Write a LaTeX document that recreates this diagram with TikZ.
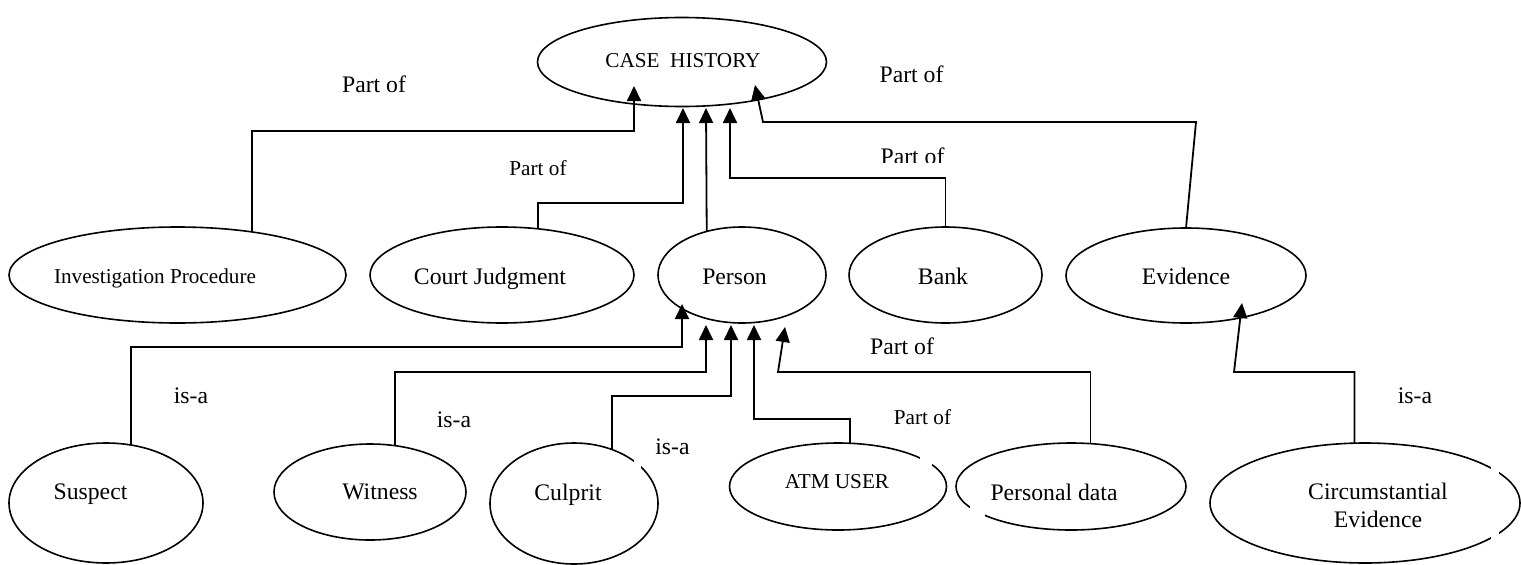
\documentclass[tikz,border=0pt]{standalone}
\usepackage{fontspec}
\setmainfont{Liberation Serif}
\usetikzlibrary{shapes.geometric,arrows.meta}
\begin{document}
\begin{tikzpicture}[x=1pt,y=-1pt,
  ell/.style={draw,ellipse,line width=1.6pt,inner sep=0pt,outer sep=0pt},
  big/.style={font=\fontsize{23.7}{28}\selectfont,inner sep=0pt,anchor=base},
  small/.style={font=\fontsize{21.2}{25}\selectfont,inner sep=0pt,anchor=base},
  link/.style={line width=1.8pt},
  arr/.style={link,-{Triangle[length=15pt,width=14pt]}},
  thinlink/.style={line width=1.1pt},
  gap/.style={fill=white,draw=none}
]
\useasboundingbox (0,0) rectangle (1521,565);

% ellipses
\node[ell,minimum width=289pt,minimum height=89pt] (case) at (682,62) {};
\node[ell,minimum width=337pt,minimum height=96pt] (inv) at (177.5,275) {};
\node[ell,minimum width=264pt,minimum height=96pt] (court) at (502,275) {};
\node[ell,minimum width=168pt,minimum height=96pt] (person) at (742,275) {};
\node[ell,minimum width=193pt,minimum height=96pt] (bank) at (945.5,275) {};
\node[ell,minimum width=240pt,minimum height=95pt] (evid) at (1186,275.5) {};
\node[ell,minimum width=194pt,minimum height=120pt] (suspect) at (106,503) {};
\node[ell,minimum width=192pt,minimum height=96pt] (witness) at (370,492) {};
\node[ell,minimum width=168pt,minimum height=121pt] (culprit) at (574,503.5) {};
\node[ell,minimum width=217pt,minimum height=87pt] (atm) at (838,486.5) {};
\node[ell,minimum width=230pt,minimum height=87pt] (pdata) at (1071,486.5) {};
\node[ell,minimum width=310pt,minimum height=120pt] (circ) at (1365,503) {};

% small breaks in outlines
\fill[gap] (634,452) rectangle (641,478);
\fill[gap] (920,448) rectangle (932,470);
\fill[gap] (970,502) rectangle (985,522);
\fill[gap] (1491,458) rectangle (1499,478);
\fill[gap] (1491,528) rectangle (1499,548);

% ellipse texts
\node[small] (caset) at (683,67) {CASE\ \ HISTORY};
\node[small] (invt) at (155,283) {Investigation Procedure};
\node[big] (courtt) at (490,284) {Court Judgment};
\node[big] (persont) at (734.5,284) {Person};
\node[big] (bankt) at (943,284) {Bank};
\node[big] (evidt) at (1186,284) {Evidence};
\node[big] (suspectt) at (90.5,499) {Suspect};
\node[big] (witnesst) at (380,499) {Witness};
\node[big] (culpritt) at (568,500) {Culprit};
\node[small] (atmt) at (837,488) {ATM USER};
\node[big] (pdatat) at (1054,500) {Personal data};
\node[big] (circt1) at (1378,499) {Circumstantial};
\node[big] (circt2) at (1378,527) {Evidence};

% tip and elbow coordinates
\coordinate (t1) at (634,86);   \coordinate (e1) at (634,131);
\coordinate (t2) at (683,108);  \coordinate (e2) at (683,203);
\coordinate (t3) at (706,108);
\coordinate (t4) at (730,108);  \coordinate (e4) at (730,178);
\coordinate (t5) at (755,85);   \coordinate (e5a) at (1196,122); \coordinate (e5b) at (763,122);
\coordinate (t6) at (682,304);  \coordinate (e6) at (682,347);
\coordinate (t7) at (706,325);  \coordinate (e7) at (706,372);
\coordinate (t8) at (731,325);  \coordinate (e8) at (731,396);
\coordinate (t9) at (754,325);  \coordinate (e9) at (754,419);
\coordinate (t10) at (785,327); \coordinate (e10a) at (850,372); \coordinate (e10b) at (778,372);
\coordinate (t11) at (1242,303); \coordinate (e11) at (1234,372);

% connectors to CASE HISTORY
\draw[arr] (inv.30.85) |- (e1) -- (t1);
\draw[arr] (court.52.46) |- (e2) -- (t2);
\draw[arr] (person.129.7) -- (t3);
\draw[arr] (bank.north) |- (e4) -- (t4);
\draw[arr] (evid.north) -- (e5a) -- (e5b) -- (t5);

% connectors to Person
\draw[arr] (suspect.67.55) |- (e6) -- (t6);
\draw[arr] (witness.62.7) |- (e7) -- (t7);
\draw[arr] (culprit.55.7) |- (e8) -- (t8);
\draw[arr] (atm.74.5) |- (e9) -- (t9);
\draw[thinlink] (pdata.66.1) |- (e10a);
\draw[arr] (e10a) -- (e10b) -- (t10);

% connector to Evidence
\draw[arr] (circ.100.4) |- (e11) -- (t11);

% relation labels
\node[big] (l1) at (374,92) {Part of};
\node[small] (l2) at (538,175) {Part of};
\node[big] (l3) at (911.5,82) {Part of};
\begin{scope}
\clip (850,130) rectangle (980,162.5);
\node[big] (l4) at (912.5,164) {Part of};
\end{scope}
\node[big] (l5) at (191,403) {is-a};
\node[big] (l6) at (454,427) {is-a};
\node[big] (l7) at (672.5,454) {is-a};
\node[big] (l8) at (902,354) {Part of};
\node[small] (l9) at (922.5,424) {Part of};
\node[big] (l10) at (1415,403) {is-a};
\end{tikzpicture}
\end{document}
